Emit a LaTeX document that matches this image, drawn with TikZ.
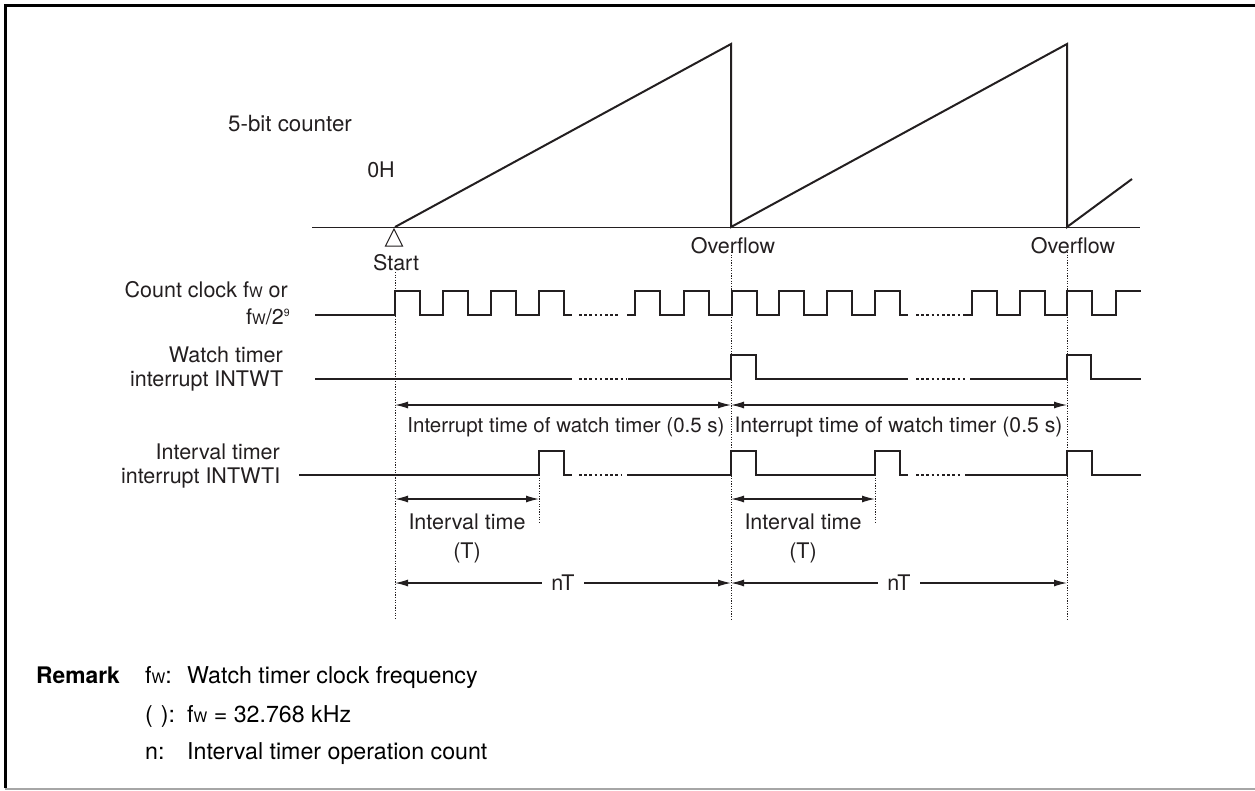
\documentclass[tikz,border=0pt]{standalone}
\usepackage{fontspec}
\setmainfont{TeX Gyre Heros}
\usetikzlibrary{arrows.meta, positioning}
\definecolor{inkblack}{HTML}{231F20}
\newcommand{\smallw}{{\fontsize{14.5}{15}\selectfont W}}
\newcommand{\smallnine}{\raisebox{8pt}{\fontsize{10.5}{11}\selectfont 9}}
\tikzset{
  lbl/.style={text=inkblack, font=\fontsize{21.5}{25}\selectfont, inner sep=0pt},
  remlbl/.style={text=black, font=\fontsize{23.2}{27}\selectfont, inner sep=0pt, anchor=base west},
  wave/.style={draw=inkblack, line width=2pt, line join=miter},
  gapdots/.style={draw=inkblack, line width=2.4pt, dash pattern=on 2.6pt off 2.6pt},
  guide/.style={draw=inkblack, line width=0.9pt, dash pattern=on 1.2pt off 1.4pt},
  span/.style={draw=inkblack, line width=1.2pt, {Latex[length=13pt,width=7pt]}-{Latex[length=13pt,width=7pt]}}
}
\begin{document}
\begin{tikzpicture}[x=1pt, y=-1pt]
  \useasboundingbox (0,0) rectangle (1255,790);
  \draw[black, line width=3pt] (5,788) -- (5,5) -- (1255,5);
  \draw[gray!70, line width=1.6pt] (5,789) -- (1255,789);
  % marks on the time axis
  \foreach \name/\x in {start/395, first/731, second/1067}{
    \coordinate (\name) at (\x,227);
    \coordinate (\name-top) at (\x,44);
  }
  \draw[inkblack, line width=0.9pt] (312,227) -- (1140,227);
  \draw[wave] (start) -- (first-top) -- (first) -- (second-top) -- (second) -- (1132,179);
  \draw[inkblack, line width=1pt] (394,229) -- (402.5,246) -- (385.5,246) -- cycle;
  % guides
  \foreach \name/\x/\ya/\yb in {gs/395/272/620, gf/731/252/620, gt/1067/252/620, ga/539/475/522, gb/875/475/522}{
    \coordinate (\name-a) at (\x,\ya);
    \coordinate (\name-b) at (\x,\yb);
    \draw[guide] (\name-a) -- (\name-b);
  }
  % count clock
  \draw[wave] (315,315) -- (395,315)
    \foreach \x in {395,443,491,539}{ -- (\x,315) -- (\x,291) -- (\x+24.5,291) -- (\x+24.5,315) } -- (572,315);
  \draw[wave] (627,315)
    \foreach \x in {635,684,732,779,827,875}{ -- (\x,315) -- (\x,291) -- (\x+24.5,291) -- (\x+24.5,315) } -- (908,315);
  \draw[wave] (963,315)
    \foreach \x in {972,1020,1067}{ -- (\x,315) -- (\x,291) -- (\x+24.5,291) -- (\x+24.5,315) } -- (1116,315) -- (1116,291) -- (1141,291);
  % watch timer interrupt
  \draw[wave] (315,379) -- (572,379);
  \draw[wave] (628,379) -- (731,379) -- (731,355) -- (756,355) -- (756,379) -- (908,379);
  \draw[wave] (970,379) -- (1067,379) -- (1067,355) -- (1091,355) -- (1091,379) -- (1141,379);
  % interval timer interrupt
  \draw[wave] (299,475) -- (539,475) -- (539,451) -- (564,451) -- (564,475) -- (572,475);
  \draw[wave] (627,475) -- (731,475) -- (731,451) -- (756,451) -- (756,475) -- (875,475) -- (875,451) -- (900,451) -- (900,475) -- (908,475);
  \draw[wave] (965,475) -- (1067,475) -- (1067,451) -- (1092,451) -- (1092,475) -- (1141,475);
  % broken parts
  \foreach \xa/\xb/\y in {579/620/315, 916/960/315, 579/627/379, 916/968/379, 579/622/475, 916/960/475}{
    \draw[gapdots] (\xa,\y) -- (\xb,\y);
  }
  % spans
  \foreach \name/\xa/\xb/\xt/\fs in {l/395/731/566/20.5, r/731/1067/898.5/21.2}{
    \coordinate (\name-s) at (\xa,405);
    \coordinate (\name-e) at (\xb,405);
    \coordinate (\name-p) at (\xa,583);
    \coordinate (\name-q) at (\xb,583);
    \draw[span] (\name-s) -- (\name-e);
    \draw[span] (\name-p) -- node[lbl, fill=white, inner xsep=9pt, inner ysep=4pt] (\name-nt) {nT} (\name-q);
    \node[lbl, font=\fontsize{\fs}{25}\selectfont] (\name-int) at (\xt,427) {Interrupt time of watch timer (0.5 s)};
  }
  \foreach \name/\xa/\xb in {il/395/539, ir/731/875}{
    \coordinate (\name-s) at (\xa,499);
    \coordinate (\name-e) at (\xb,499);
    \draw[span] (\name-s) -- (\name-e);
    \node[lbl, align=center] (\name-t) at (\xa+72,538) {Interval time\\[4pt](T)};
  }
  % labels
  \node[lbl, anchor=west, font=\fontsize{22.3}{25}\selectfont] (counter) at (228,124) {5-bit counter};
  \node[lbl] (zero) at (381,170) {0H};
  \node[lbl] (startlbl) at (396,263) {Start};
  \node[lbl] (ovfa) at (733,246) {Overflow};
  \node[lbl] (ovfb) at (1073,246) {Overflow};
  \node[lbl, anchor=east] (clka) at (288,290) {Count clock f\smallw{} or};
  \node[lbl, anchor=west] (clkb) at (246,317) {f\smallw/2\smallnine};
  \node[lbl, anchor=east] (wta) at (283,355) {Watch timer};
  \node[lbl, anchor=east] (wtb) at (283.5,381) {interrupt INTWT};
  \node[lbl, anchor=east] (ita) at (280,452) {Interval timer};
  \node[lbl, anchor=east] (itb) at (280.5,478) {interrupt INTWTI};
  \node[remlbl, font=\fontsize{22.8}{27}\selectfont\bfseries] (rem) at (36,683) {Remark};
  \node[remlbl] (rema) at (145,683) {f\smallw:};
  \node[remlbl] (remb) at (187,683) {Watch timer clock frequency};
  \node[remlbl] (remc) at (145,722) {(\hspace{8pt}):};
  \node[remlbl] (remd) at (187,722) {f\smallw{} = 32.768 kHz};
  \node[remlbl] (reme) at (145,759) {n:};
  \node[remlbl] (remf) at (187,759) {Interval timer operation count};
\end{tikzpicture}
\end{document}
